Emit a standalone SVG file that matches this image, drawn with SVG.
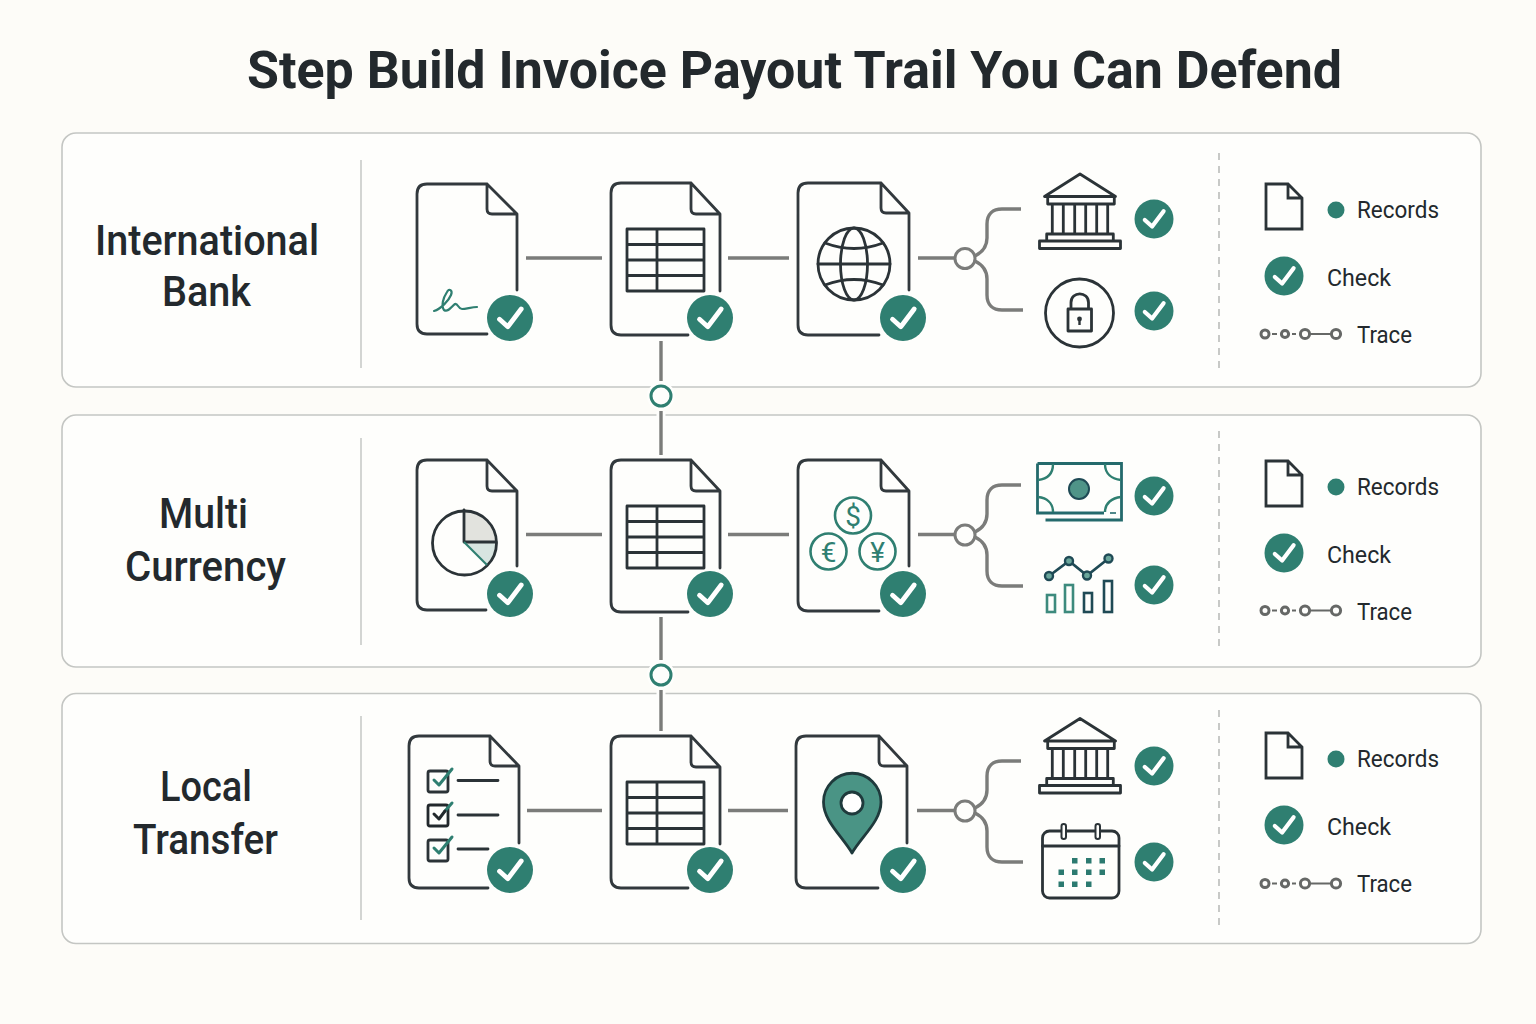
<svg xmlns="http://www.w3.org/2000/svg" xmlns:xlink="http://www.w3.org/1999/xlink" width="1536" height="1024" viewBox="0 0 1536 1024">
<style>
text{font-family:Roboto,"Liberation Sans",sans-serif;fill:#23292d}
.title{font-size:51px;font-weight:700}
.lab{font-size:43px;font-weight:500;text-anchor:middle}
.leg{font-size:24px;font-weight:400}
.panel{fill:#fefefc;stroke:#c4c6c3;stroke-width:1.6}
.div{stroke:#c9cbc8;stroke-width:1.6;fill:none}
.dash{stroke:#c2c4c1;stroke-width:1.8;fill:none;stroke-dasharray:7 6}
.doc{fill:none;stroke:#32393d;stroke-width:2.8;stroke-linejoin:round;stroke-linecap:round}
.ink{fill:none;stroke:#2b3337;stroke-width:2.8;stroke-linejoin:round;stroke-linecap:round}
.teal{fill:none;stroke:#2f7f71;stroke-width:2.6;stroke-linecap:round;stroke-linejoin:round}
.conn{fill:none;stroke:#7b7c7a;stroke-width:3.4;stroke-linecap:butt}
.hub{fill:#fefefc;stroke:#7b7c7a;stroke-width:3}
.hubt{fill:#fefefc;stroke:#2f7f71;stroke-width:3}
.cur{font-size:28px;fill:#2f7f71;text-anchor:middle}
.tr{fill:none;stroke:#666866;stroke-width:3}
</style>
<defs>
<g id="chk"><circle r="23" fill="#2f7f71"/><path d="M-10.500 1.300L-2.200 8.700L11.200-9" fill="none" stroke="#fff" stroke-width="4.800" stroke-linecap="round" stroke-linejoin="round"/></g>
<g id="chks"><circle r="19.500" fill="#2f7f71"/><path d="M-9.200 1L-1.900 7.500L9.600-7.800" fill="none" stroke="#fff" stroke-width="4.200" stroke-linecap="round" stroke-linejoin="round"/></g>
<g id="mid"><path class="doc" d="M688 335H621Q611 335 611 325V193Q611 183 621 183H691L720 214V291M691 183V209Q691 214 696 214H720"/><path class="ink" d="M627 229H704V291H627ZM657 229V291M627 244.500H704M627 260H704M627 275.500H704"/></g>
<g id="bank"><path d="M1044.500 196.500L1080 174L1115.500 196.500ZM1047.700 196.500H1114.300V204H1047.700ZM1052.300 204V234M1063.300 204V234M1074.700 204V234M1085.700 204V234M1096.700 204V234M1107.700 204V234M1046.700 234H1113.300V241H1046.700ZM1039.500 241H1120.500V248.500H1039.500Z" class="ink"/></g>
<g id="legdoc"><path class="ink" style="stroke-linejoin:miter" d="M1288 184H1266V229H1302V198ZM1288 184V198H1302"/></g>
<g id="tracei"><circle class="tr" cx="1265" cy="0" r="4"/><circle class="tr" cx="1285" cy="0" r="3.600"/><circle class="tr" cx="1305" cy="0" r="4.600"/><circle class="tr" cx="1336" cy="0" r="4.600"/><path d="M1272 0H1277M1292 0H1296M1310 0H1331" fill="none" stroke="#666866" stroke-width="2"/></g>
</defs>
<rect id="bg" width="1536" height="1024" fill="#fdfcf8"/>
<text id="title" class="title" x="247" y="88" textLength="1095" lengthAdjust="spacingAndGlyphs">Step Build Invoice Payout Trail You Can Defend</text>

<g id="panels">
<rect class="panel" x="62" y="133" width="1419" height="254" rx="14"/>
<rect class="panel" x="62" y="415" width="1419" height="252" rx="14"/>
<rect class="panel" x="62" y="693.500" width="1419" height="250" rx="14"/>
<path class="div" d="M361 160V368M361 438V645M361 716V920"/>
<path class="dash" d="M1219 153V370M1219 431V650M1219 710V925"/>
</g>

<g id="connectors">
<path d="M661 341V381M661 617V660" class="conn"/>
<circle cx="661" cy="396" r="14" fill="#fefefc"/><circle cx="661" cy="675" r="14" fill="#fefefc"/>
<path d="M661 411V455M661 690V731" fill="none" stroke="#fefefc" stroke-width="9"/>
<path d="M661 411V455M661 690V731" class="conn"/>
<circle class="hubt" cx="661" cy="396" r="10"/><circle class="hubt" cx="661" cy="675" r="10"/>
<g id="conn-r1"><path class="conn" d="M526 258H602M728 258H789M918 258H955M975 256C983 252 987 246 987 238V224C987 214 993 209 1002 209H1021M975 261C983 265 987 271 987 279V295C987 305 993 310 1002 310H1023"/><circle class="hub" cx="965" cy="258.500" r="10"/></g>
<g id="conn-r2"><path class="conn" d="M526 534.500H602M728 534.500H789M918 534.500H955M975 532C983 528 987 522 987 514V500C987 490 993 485 1002 485H1021M975 537C983 541 987 547 987 555V571C987 581 993 586 1002 586H1023"/><circle class="hub" cx="965" cy="535" r="10"/></g>
<g id="conn-r3"><path class="conn" d="M527 810.500H602M728 810.500H788M917 810.500H955M975 808C983 804 987 798 987 790V776C987 766 993 761 1002 761H1021M975 813C983 817 987 823 987 831V847C987 857 993 862 1002 862H1023"/><circle class="hub" cx="965" cy="811" r="10"/></g>
</g>

<g id="label-r1"><text class="lab" x="207" y="255" textLength="224" lengthAdjust="spacingAndGlyphs">International</text><text class="lab" x="206.500" y="306" textLength="89" lengthAdjust="spacingAndGlyphs">Bank</text></g>
<g id="label-r2"><text class="lab" x="203.500" y="528" textLength="89" lengthAdjust="spacingAndGlyphs">Multi</text><text class="lab" x="205.500" y="581" textLength="161" lengthAdjust="spacingAndGlyphs">Currency</text></g>
<g id="label-r3"><text class="lab" x="206" y="801" textLength="92" lengthAdjust="spacingAndGlyphs">Local</text><text class="lab" x="205.500" y="854" textLength="145" lengthAdjust="spacingAndGlyphs">Transfer</text></g>

<g id="doc-r1-1"><path class="doc" d="M487 334H427Q417 334 417 324V194Q417 184 427 184H487L517 214V290M487 184V209Q487 214 492 214H517"/>
<path d="M434 311C441 309 449 300 451 295C453 290 449 288 447 292C443 298 441 306 444 310C448 313 452 306 455 304C458 303 458 309 462 309C466 309 472 307 477 307" fill="none" stroke="#2f7f71" stroke-width="2.200" stroke-linecap="round"/>
<use href="#chk" x="510" y="318"/></g>
<g id="doc-r1-2"><use href="#mid"/><use href="#chk" x="710" y="318"/></g>
<g id="doc-r1-3"><path class="doc" d="M879 335H808Q798 335 798 325V193Q798 183 808 183H881L909 213V290M881 183V208Q881 213 886 213H909"/>
<g class="ink"><circle cx="854" cy="264" r="36"/><ellipse cx="854" cy="264" rx="13.500" ry="36"/><path d="M818 264H890M825 243Q854 254 883 243M825 285Q854 274 883 285"/></g>
<use href="#chk" x="903" y="318"/></g>
<g id="icon-r1-bank"><use href="#bank"/><use href="#chks" x="1154" y="219"/></g>
<g id="icon-r1-lock"><circle class="ink" cx="1079.500" cy="313" r="34"/><path class="ink" d="M1068 309H1091.500V331H1068ZM1071 309V302.500C1071 291 1088.500 291 1088.500 302.500V309"/><circle cx="1079.500" cy="319" r="2.400" fill="#2b3337"/><path d="M1079.500 319V325" stroke="#2b3337" stroke-width="2.400"/><use href="#chks" x="1154" y="311"/></g>
<g id="legend-r1"><use href="#legdoc"/><circle cx="1336" cy="210" r="8.500" fill="#2f7f71"/><text class="leg" x="1357" y="218" textLength="82" lengthAdjust="spacingAndGlyphs">Records</text><use href="#chks" x="1284" y="276"/><text class="leg" x="1327" y="286" textLength="64" lengthAdjust="spacingAndGlyphs">Check</text><use href="#tracei" y="334"/><text class="leg" x="1357" y="343" textLength="55" lengthAdjust="spacingAndGlyphs">Trace</text></g>

<g id="doc-r2-1"><path class="doc" d="M486 610H427Q417 610 417 600V470Q417 460 427 460H487L517 491V566M487 460V486Q487 491 492 491H517"/>
<path d="M464 542V509.500A32.500 32.500 0 0 1 496 542Z" fill="#e2e3de"/><path d="M464 542H496A32.500 32.500 0 0 1 487 565Z" fill="#d8e5e1"/>
<circle class="ink" cx="464.500" cy="543" r="32"/><path class="ink" d="M464 510V542H496"/><path d="M464 542L487 565" stroke="#2f7f71" stroke-width="2.200"/>
<use href="#chk" x="510" y="594"/></g>
<g id="doc-r2-2"><use href="#mid" y="277"/><use href="#chk" x="710" y="594"/></g>
<g id="doc-r2-3"><path class="doc" d="M879 611H808Q798 611 798 601V470Q798 460 808 460H881L909 491V566M881 460V486Q881 491 886 491H909"/>
<circle class="teal" cx="853" cy="515.500" r="18"/><circle class="teal" cx="828.500" cy="551.500" r="18"/><circle class="teal" cx="877.500" cy="551.500" r="18"/>
<text class="cur" x="853" y="525.500">$</text><text class="cur" x="828.500" y="561.500">€</text><text class="cur" x="877.500" y="561.500">¥</text>
<use href="#chk" x="903" y="594"/></g>
<g id="icon-r2-cash"><path d="M1037.500 463.500H1121.500V520H1045.500M1037.500 463.500V513H1104" fill="none" stroke="#246a6c" stroke-width="2.800"/><path d="M1110 513H1116" stroke="#246a6c" stroke-width="1.600"/>
<path d="M1053 464C1053 474 1047 479 1038 480M1105 464C1105 474 1112 479 1121 480M1038 497C1047 498 1053 503 1053 512M1121 497C1112 498 1105 503 1105 512" fill="none" stroke="#2f7f71" stroke-width="2.400"/>
<circle cx="1079" cy="489" r="10" fill="#4f9488" stroke="#1f4a55" stroke-width="2"/><use href="#chks" x="1154" y="496"/></g>
<g id="icon-r2-chart"><path d="M1049 576L1069 561L1087 575.500L1108.500 558.500" fill="none" stroke="#1f4a55" stroke-width="2.800"/>
<g fill="#6aa69b" stroke="#1f4a55" stroke-width="2.400"><circle cx="1049" cy="576" r="4"/><circle cx="1069" cy="561" r="4"/><circle cx="1087" cy="575.500" r="4"/><circle cx="1108.500" cy="558.500" r="4"/></g>
<g fill="none" stroke-width="2.600"><rect x="1047" y="595" width="8" height="17" stroke="#3d8a7d"/><rect x="1065" y="585" width="8" height="27" stroke="#3d8a7d"/><rect x="1084" y="593" width="8" height="19" stroke="#1f4a55"/><rect x="1104" y="581" width="8" height="31" stroke="#1f4a55"/></g>
<use href="#chks" x="1154" y="585"/></g>
<g id="legend-r2"><use href="#legdoc" y="277"/><circle cx="1336" cy="487" r="8.500" fill="#2f7f71"/><text class="leg" x="1357" y="495" textLength="82" lengthAdjust="spacingAndGlyphs">Records</text><use href="#chks" x="1284" y="553"/><text class="leg" x="1327" y="563" textLength="64" lengthAdjust="spacingAndGlyphs">Check</text><use href="#tracei" y="610.500"/><text class="leg" x="1357" y="620" textLength="55" lengthAdjust="spacingAndGlyphs">Trace</text></g>

<g id="doc-r3-1"><path class="doc" d="M488 888H419Q409 888 409 878V746Q409 736 419 736H490L519 766V843M490 736V761Q490 766 495 766H519"/>
<g class="ink"><rect x="428" y="771" width="20" height="21" rx="2"/><rect x="428" y="805" width="20" height="21" rx="2" style="stroke:#22282c"/><rect x="428" y="840" width="20" height="21" rx="2"/><path d="M458 780.500H498M458 815H498M458 849H488"/></g>
<path d="M434 780L439 785L452 769M434 848L439 853L452 837M445 811L452 803" class="teal" style="stroke-width:3"/><path class="teal" d="M434 814L439 819L445 811" style="stroke:#22282c;stroke-width:3"/>
<use href="#chk" x="510" y="870"/></g>
<g id="doc-r3-2"><use href="#mid" y="553"/><use href="#chk" x="710" y="870"/></g>
<g id="doc-r3-3"><path class="doc" d="M878 888H806Q796 888 796 878V746Q796 736 806 736H879L907 766V843M879 736V761Q879 766 884 766H907"/>
<path d="M852 853C842 836 823.500 821 823.500 802A28.500 28.500 0 0 1 881 802C881 821 862 836 852 853Z" fill="#4a9485" stroke="#1f3a3c" stroke-width="2.800" stroke-linejoin="round"/><circle cx="852" cy="803" r="11" fill="#fff" stroke="#1f3a3c" stroke-width="2.800"/>
<use href="#chk" x="903" y="870"/></g>
<g id="icon-r3-bank"><use href="#bank" y="544.500"/><use href="#chks" x="1154" y="766"/></g>
<g id="icon-r3-cal"><rect class="ink" x="1042.500" y="831" width="76.500" height="67" rx="7"/><path class="ink" d="M1042.500 846H1119"/><rect x="1061.500" y="824" width="4.500" height="15" rx="2.200" fill="#fefefc" stroke="#2b3337" stroke-width="2"/><rect x="1095.500" y="824" width="4.500" height="15" rx="2.200" fill="#fefefc" stroke="#2b3337" stroke-width="2"/>
<g fill="#2c7a70"><rect x="1072" y="858" width="5.500" height="5.500"/><rect x="1086" y="858" width="5.500" height="5.500"/><rect x="1099.500" y="858" width="5.500" height="5.500"/><rect x="1058.500" y="869.500" width="5.500" height="5.500"/><rect x="1072" y="869.500" width="5.500" height="5.500"/><rect x="1086" y="869.500" width="5.500" height="5.500"/><rect x="1099.500" y="869.500" width="5.500" height="5.500"/><rect x="1058.500" y="881.500" width="5.500" height="5.500"/><rect x="1072" y="881.500" width="5.500" height="5.500"/><rect x="1086" y="881.500" width="5.500" height="5.500"/></g>
<use href="#chks" x="1154" y="862"/></g>
<g id="legend-r3"><use href="#legdoc" y="549"/><circle cx="1336" cy="759" r="8.500" fill="#2f7f71"/><text class="leg" x="1357" y="767" textLength="82" lengthAdjust="spacingAndGlyphs">Records</text><use href="#chks" x="1284" y="825"/><text class="leg" x="1327" y="835" textLength="64" lengthAdjust="spacingAndGlyphs">Check</text><use href="#tracei" y="883.500"/><text class="leg" x="1357" y="892" textLength="55" lengthAdjust="spacingAndGlyphs">Trace</text></g>
</svg>
